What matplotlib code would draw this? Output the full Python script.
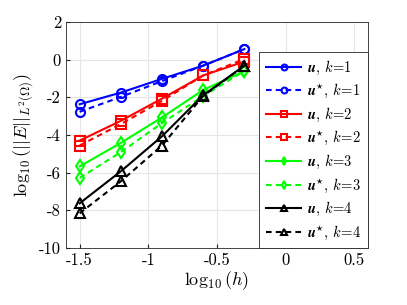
import numpy as np
import matplotlib
matplotlib.use("Agg")
import matplotlib.pyplot as plt

plt.rcParams['mathtext.fontset'] = 'cm'
plt.rcParams['font.family'] = 'serif'
plt.rcParams['font.serif'] = ['cmr10', 'DejaVu Serif']
plt.rcParams['axes.unicode_minus'] = False
plt.rcParams['lines.dashed_pattern'] = [2.7, 2.0]

# log10(h)
logh = [-1.5, -1.2, -0.9, -0.6, -0.3]

# log10 of the L2 errors
u_k1 = [-2.37, -1.75, -1.02, -0.32, 0.56]
us_k1 = [-2.77, -1.98, -1.14, -0.32, 0.56]
u_k2 = [-4.30, -3.25, -2.07, -0.84, -0.10]
us_k2 = [-4.56, -3.42, -2.19, -0.84, 0.03]
u_k3 = [-5.67, -4.42, -3.07, -1.61, -0.61]
us_k3 = [-6.28, -4.91, -3.37, -1.93, -0.60]
u_k4 = [-7.63, -5.93, -4.07, -1.89, -0.32]
us_k4 = [-8.16, -6.46, -4.56, -1.93, -0.32]

xticks = [-1.5, -1, -0.5, 0, 0.5]
xticklabels = ['-1.5', '-1', '-0.5', '0', '0.5']
yticks = [-10, -8, -6, -4, -2, 0, 2]
yticklabels = ['-10', '-8', '-6', '-4', '-2', '0', '2']

fig = plt.figure(figsize=(4.07, 3.05), dpi=100)
ax = fig.add_axes([0.162, 0.187, 0.742, 0.741])

series = [
    (u_k1, 'b', 'o', '-', r'$\mathbfit{u}$, $k\!=\!1$'),
    (us_k1, 'b', 'o', '--', r'$\mathbfit{u}^{\star}$, $k\!=\!1$'),
    (u_k2, 'r', 's', '-', r'$\mathbfit{u}$, $k\!=\!2$'),
    (us_k2, 'r', 's', '--', r'$\mathbfit{u}^{\star}$, $k\!=\!2$'),
    (u_k3, '#00ff00', 'd', '-', r'$\mathbfit{u}$, $k\!=\!3$'),
    (us_k3, '#00ff00', 'd', '--', r'$\mathbfit{u}^{\star}$, $k\!=\!3$'),
    (u_k4, 'k', '^', '-', r'$\mathbfit{u}$, $k\!=\!4$'),
    (us_k4, 'k', '^', '--', r'$\mathbfit{u}^{\star}$, $k\!=\!4$'),
]
for vals, c, m, ls, lab in series:
    ax.plot(logh, vals, color=c, marker=m, linestyle=ls, linewidth=1.5,
            markersize=6.5, markerfacecolor='none', markeredgewidth=1.5,
            label=lab)

ax.set_xlim(-1.6, 0.6)
ax.set_ylim(-10, 2)
ax.set_xticks(xticks)
ax.set_xticklabels(xticklabels)
ax.set_yticks(yticks)
ax.set_yticklabels(yticklabels)
ax.tick_params(labelsize=12, direction='in', length=3, color='#262626')
ax.grid(True, color='#e6e6e6', linewidth=0.8)
ax.set_axisbelow(True)
for s in ax.spines.values():
    s.set_color('#262626')
    s.set_linewidth(0.6)

ax.set_xlabel(r'$\log_{10}(h)$', fontsize=13, labelpad=1)
ax.set_ylabel(r'$\log_{10}(||E||_{L^2(\Omega)})$', fontsize=13, labelpad=2)

leg = ax.legend(loc='upper right', bbox_to_anchor=(1.0, 0.867), fontsize=10.5,
                handlelength=2.4, handletextpad=0.4, labelspacing=0.38,
                borderpad=0.45, borderaxespad=0, fancybox=False, framealpha=1,
                markerscale=0.65)
leg.get_frame().set_edgecolor('#262626')
leg.get_frame().set_linewidth(0.6)

fig.savefig('out.png', dpi=100)
